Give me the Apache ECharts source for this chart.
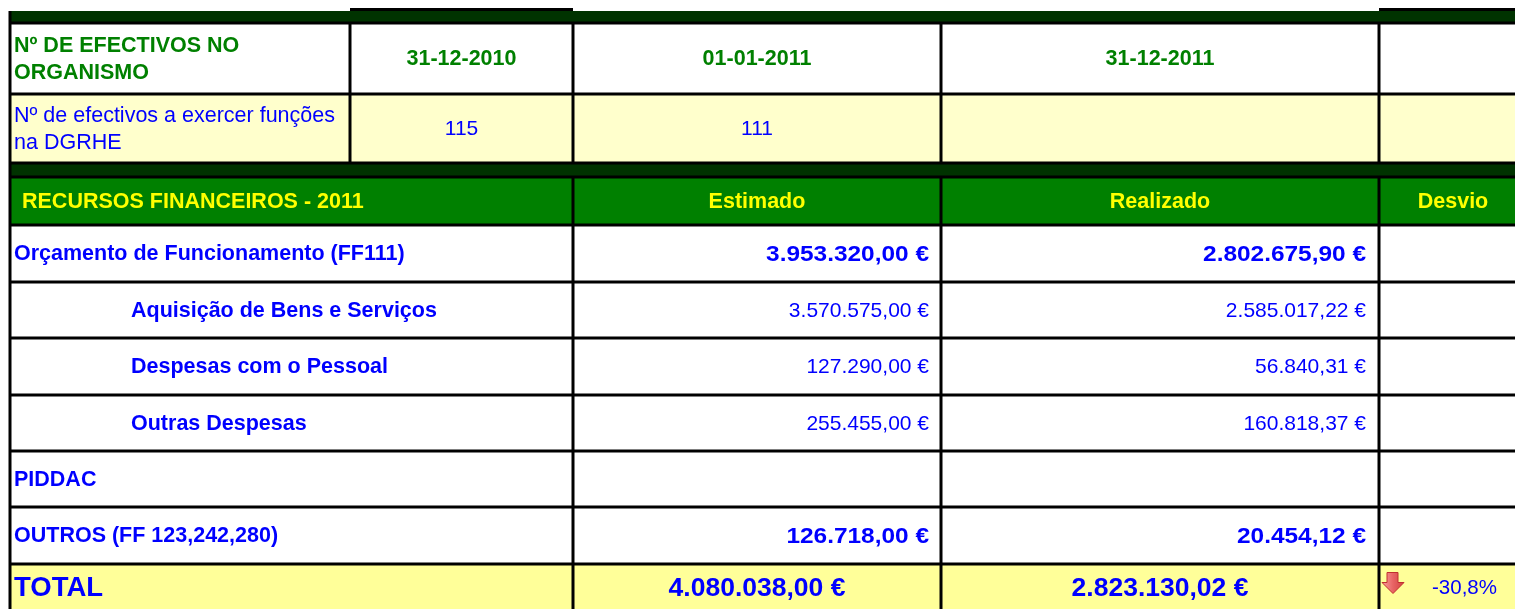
<!DOCTYPE html>
<html>
<head>
<meta charset="utf-8">
<script src="https://cdn.jsdelivr.net/npm/echarts@6/dist/echarts.min.js"></script>
<style>
html,body{margin:0;padding:0;background:#fff;}
#quadro{width:1515px;height:609px;}
</style>
</head>
<body>
<div id="quadro"></div>
<script>
// dados do quadro
var tituloEfectivos = 'Nº DE EFECTIVOS NO\nORGANISMO';
var datasEfectivos = ['31-12-2010', '01-01-2011', '31-12-2011'];
var labelEfectivos = 'Nº de efectivos a exercer funções\nna DGRHE';
var efectivos = [115, 111, null];
var tituloFin = 'RECURSOS FINANCEIROS - 2011';
var colunasFin = ['Estimado', 'Realizado', 'Desvio'];
var rubricas = ['Orçamento de Funcionamento (FF111)', 'Aquisição de Bens e Serviços', 'Despesas com o Pessoal', 'Outras Despesas', 'PIDDAC', 'OUTROS (FF 123,242,280)'];
var subRubrica = [false, true, true, true, false, false];
var estimado = [3953320.00, 3570575.00, 127290.00, 255455.00, null, 126718.00];
var realizado = [2802675.90, 2585017.22, 56840.31, 160818.37, null, 20454.12];
var totalEstimado = 4080038.00;
var totalRealizado = 2823130.02;
var desvioTotal = -30.8;

// grelha (layout)
var colX = [10, 350, 573, 941, 1379, 1527];
var rowY = [11, 23, 94, 163, 177, 225, 282, 338, 395, 451, 507, 564, 630];

var FONT = 'Liberation Sans, Arial, sans-serif';
var VERDE = '#008000', AZUL = '#0000ff', AMARELO = '#ffff00';

function euro(v) {
  var s = v.toFixed(2).split('.');
  return s[0].replace(/\B(?=(\d{3})+(?!\d))/g, '.') + ',' + s[1] + ' €';
}
function pct(v) {
  return v.toFixed(1).replace('.', ',') + '%';
}

// celulas
var cells = [];
function cell(c0, c1, r, fill, text, opt) {
  opt = opt || {};
  cells.push({c0: c0, c1: c1, r: r, fill: fill, text: text == null ? '' : text,
    align: opt.align || 'center', pad: opt.pad || 0, color: opt.color || AZUL,
    size: opt.size || 21, bold: !!opt.bold, sx: opt.sx || 1, arrow: !!opt.arrow});
}
cell(0, 5, 0, '#003300');
cell(0, 1, 1, '#fff', tituloEfectivos, {align: 'left', pad: 4, color: VERDE, size: 21.5, bold: true});
datasEfectivos.forEach(function (d, i) {
  cell(i + 1, i + 2, 1, '#fff', d, {color: VERDE, size: 21.5, bold: true});
});
cell(4, 5, 1, '#fff');
cell(0, 1, 2, '#ffffcc', labelEfectivos, {align: 'left', pad: 4, size: 21.5});
efectivos.forEach(function (v, i) {
  cell(i + 1, i + 2, 2, '#ffffcc', v, {size: 21});
});
cell(4, 5, 2, '#ffffcc');
cell(0, 5, 3, '#003300');
cell(0, 2, 4, VERDE, tituloFin, {align: 'left', pad: 12, color: AMARELO, size: 21.5, bold: true});
colunasFin.forEach(function (t, i) {
  cell(i + 2, i + 3, 4, VERDE, t, {color: AMARELO, size: 21.5, bold: true});
});
rubricas.forEach(function (t, i) {
  var b = !subRubrica[i];
  cell(0, 2, 5 + i, '#fff', t, {align: 'left', pad: subRubrica[i] ? 121 : 4, size: 21.5, bold: true});
  cell(2, 3, 5 + i, '#fff', estimado[i] == null ? '' : euro(estimado[i]), {align: 'right', pad: 12, size: b ? 22 : 21, bold: b, sx: b ? 1.11 : 1});
  cell(3, 4, 5 + i, '#fff', realizado[i] == null ? '' : euro(realizado[i]), {align: 'right', pad: 13, size: b ? 22 : 21, bold: b, sx: b ? 1.11 : 1});
  cell(4, 5, 5 + i, '#fff');
});
cell(0, 2, 11, '#ffff99', 'TOTAL', {align: 'left', pad: 4, size: 27.5, bold: true});
cell(2, 3, 11, '#ffff99', euro(totalEstimado), {size: 26.5, bold: true});
cell(3, 4, 11, '#ffff99', euro(totalRealizado), {size: 26.5, bold: true});
cell(4, 5, 11, '#ffff99', pct(desvioTotal), {align: 'right', pad: 30, size: 20.5, arrow: true});

// linhas
var lines = [];
function hline(r, c0, c1) { lines.push({x0: colX[c0], y0: rowY[r], x1: colX[c1], y1: rowY[r]}); }
function vline(c, r0, r1) { lines.push({x0: colX[c], y0: rowY[r0], x1: colX[c], y1: rowY[r1]}); }
[1, 2, 3, 4, 5, 6, 7, 8, 9, 10, 11].forEach(function (r) { hline(r, 0, 5); });
vline(0, 0, 12);
[1, 2, 3, 4].forEach(function (c) { vline(c, 1, 3); });
[2, 3, 4].forEach(function (c) { vline(c, 4, 12); });

var chart = echarts.init(document.getElementById('quadro'));
chart.setOption({
  animation: false,
  grid: {left: 0, top: 0, right: 0, bottom: 0},
  xAxis: {type: 'value', min: 0, max: 1515, show: false},
  yAxis: {type: 'value', min: 0, max: 609, inverse: true, show: false},
  series: [
    {
      type: 'custom',
      clip: true,
      data: cells.map(function (c, i) { return [colX[c.c0], rowY[c.r], i]; }),
      renderItem: function (params, api) {
        var c = cells[params.dataIndex];
        var p0 = api.coord([colX[c.c0], rowY[c.r]]);
        var p1 = api.coord([colX[c.c1], rowY[c.r + 1]]);
        var h = p1[1] - p0[1];
        var tx = c.align === 'left' ? p0[0] + c.pad : (c.align === 'right' ? p1[0] - c.pad : (p0[0] + p1[0]) / 2);
        var ty = p0[1] + h / 2 + 1;
        if (c.r === 11) ty = p0[1] + 24.5;
        var children = [{
          type: 'rect',
          shape: {x: p0[0], y: p0[1], width: p1[0] - p0[0], height: h},
          style: {fill: c.fill}
        }];
        if (c.text !== '') {
          children.push({
            type: 'text',
            x: tx, y: ty, scaleX: c.sx,
            style: {
              text: String(c.text), x: 0, y: 0,
              align: c.align, verticalAlign: 'middle',
              fill: c.color, lineHeight: 27,
              font: (c.bold ? 'bold ' : '') + c.size + 'px ' + FONT
            }
          });
        }
        if (c.arrow) {
          var ax = p0[0] + 3, ay = ty - 16;
          children.push({
            type: 'polygon',
            shape: {points: [[ax + 5, ay], [ax + 16, ay], [ax + 16, ay + 10], [ax + 22, ay + 10],
              [ax + 11, ay + 21], [ax, ay + 10], [ax + 5, ay + 10]]},
            style: {
              fill: new echarts.graphic.LinearGradient(0, 0, 1, 0, [
                {offset: 0, color: '#f9a0a0'}, {offset: 0.5, color: '#e86464'}, {offset: 1, color: '#d04040'}]),
              stroke: '#c03030', lineWidth: 1
            }
          });
        }
        return {type: 'group', children: children};
      }
    },
    {
      type: 'custom',
      clip: true,
      data: lines.map(function (l, i) { return [l.x0, l.y0, i]; }),
      renderItem: function (params, api) {
        var l = lines[params.dataIndex];
        var a = api.coord([l.x0, l.y0]);
        var b = api.coord([l.x1, l.y1]);
        return {
          type: 'line',
          shape: {x1: a[0], y1: a[1], x2: b[0], y2: b[1]},
          style: {stroke: '#000', lineWidth: 3}
        };
      }
    },
    {
      type: 'custom',
      clip: true,
      data: [[350, 9.5, 0], [1379, 9.5, 1]],
      renderItem: function (params, api) {
        var seg = [[colX[1], colX[2]], [colX[4], colX[5]]][params.dataIndex];
        var a = api.coord([seg[0], 9.5]);
        var b = api.coord([seg[1], 9.5]);
        return {
          type: 'line',
          shape: {x1: a[0], y1: a[1], x2: b[0], y2: b[1]},
          style: {stroke: '#000', lineWidth: 3}
        };
      }
    }
  ]
});
</script>
</body>
</html>
